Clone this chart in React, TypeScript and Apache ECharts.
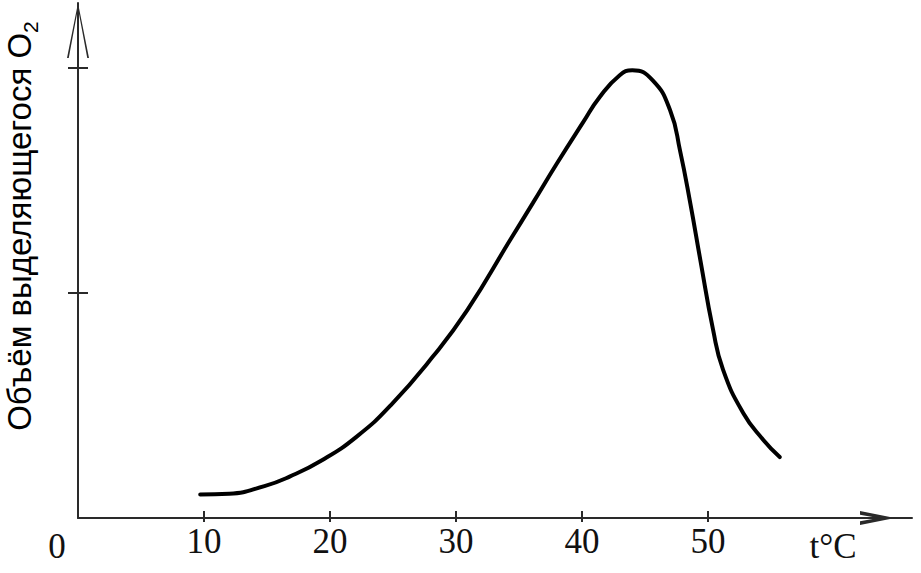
import { useEffect, useRef } from "react";
import * as echarts from "echarts";

// Temperature, °C
const temperatures = [9.7, 12.0, 14.8, 16.8, 19.4, 22.1, 24.8, 28.2, 30.9, 34.3, 36.1, 38.0, 40.1, 41.4, 43.0, 44.0, 45.6, 47.0, 47.8, 48.6, 49.4, 50.4, 51.2, 52.8, 54.4, 55.7];
// Volume of released O2 (relative units)
const o2Volume = [0.105, 0.108, 0.142, 0.184, 0.258, 0.361, 0.5, 0.72, 0.924, 1.236, 1.4, 1.575, 1.76, 1.871, 1.969, 1.991, 1.947, 1.813, 1.63, 1.4, 1.147, 0.84, 0.66, 0.467, 0.347, 0.271];
const xTickValues = [10, 20, 30, 40, 50];
const yTickValues = [1, 2];
const xAxisMax = 66.2;
const yAxisMax = 2.29;

const axisColor = "#2a2a2a";
const arrowY = "path://M10,0 L20,50 L18.4,50 L10,5 L1.6,50 L0,50 Z";
const arrowX = "path://M10,0 L20,50 L14.5,50 L10,24 L5.5,50 L0,50 Z";

export default function App() {
  const ref = useRef<HTMLDivElement>(null);
  useEffect(() => {
    const chart = echarts.init(ref.current!, null, { renderer: "svg" });
    chart.setOption({
      animation: false,
      backgroundColor: "#ffffff",
      grid: { left: 78, right: 9, top: 3, bottom: 55, containLabel: false },
      xAxis: [
        {
          type: "value",
          min: 0,
          max: xAxisMax,
          position: "bottom",
          splitLine: { show: false },
          axisLine: {
            show: true,
            lineStyle: { color: axisColor, width: 2 },
            symbol: ["none", arrowX],
            symbolSize: [14, 69],
            symbolOffset: [0, -34.5],
          },
          axisTick: {
            show: true,
            customValues: xTickValues,
            length: 4,
            lineStyle: { color: axisColor, width: 2 },
          },
          axisLabel: {
            customValues: xTickValues,
            fontFamily: "Liberation Serif",
            fontSize: 35,
            color: "#111",
            margin: 6,
          },
        },
        {
          type: "value",
          min: 0,
          max: xAxisMax,
          position: "bottom",
          splitLine: { show: false },
          axisLine: { show: false },
          axisTick: {
            show: true,
            inside: true,
            customValues: xTickValues,
            length: 7,
            lineStyle: { color: axisColor, width: 2 },
          },
          axisLabel: { show: false },
        },
      ],
      yAxis: [
        {
          type: "value",
          min: 0,
          max: yAxisMax,
          splitLine: { show: false },
          axisLine: {
            show: true,
            lineStyle: { color: axisColor, width: 2 },
            symbol: ["none", arrowY],
            symbolSize: [22, 55],
            symbolOffset: [0, -27.5],
          },
          axisTick: {
            show: true,
            customValues: yTickValues,
            length: 10,
            lineStyle: { color: axisColor, width: 2 },
          },
          axisLabel: { show: false },
        },
        {
          type: "value",
          min: 0,
          max: yAxisMax,
          position: "left",
          splitLine: { show: false },
          axisLine: { show: false },
          axisTick: {
            show: true,
            inside: true,
            customValues: yTickValues,
            length: 10,
            lineStyle: { color: axisColor, width: 2 },
          },
          axisLabel: { show: false },
        },
      ],
      series: [
        {
          type: "line",
          xAxisIndex: 0,
          yAxisIndex: 0,
          data: temperatures.map((t, i) => [t, o2Volume[i]]),
          showSymbol: false,
          smooth: 0.5,
          lineStyle: { color: "#000", width: 4, cap: "round" },
        },
      ],
      graphic: [
        {
          type: "text",
          x: 57,
          y: 546,
          style: {
            text: "0",
            fontFamily: "Liberation Serif",
            fontSize: 35,
            fill: "#111",
            align: "center",
            verticalAlign: "middle",
          },
        },
        {
          type: "text",
          x: 833,
          y: 546,
          style: {
            text: "t°C",
            fontFamily: "Liberation Serif",
            fontSize: 35,
            fill: "#111",
            align: "center",
            verticalAlign: "middle",
          },
        },
        {
          type: "text",
          x: 19,
          y: 226,
          rotation: Math.PI / 2,
          style: {
            text: "Объём выделяющегося O{sub|2}",
            fontFamily: "Liberation Sans",
            fontSize: 33,
            fill: "#000",
            align: "center",
            verticalAlign: "middle",
            lineHeight: 44,
            rich: {
              sub: {
                fontFamily: "Liberation Sans",
                fontSize: 21,
                lineHeight: 44,
                verticalAlign: "bottom",
                fill: "#000",
              },
            },
          },
        },
      ],
    });
    return () => chart.dispose();
  }, []);
  return (
    <div
      ref={ref}
      style={{ position: "fixed", left: 0, top: 0, width: 921, height: 573, background: "#fff" }}
    />
  );
}
